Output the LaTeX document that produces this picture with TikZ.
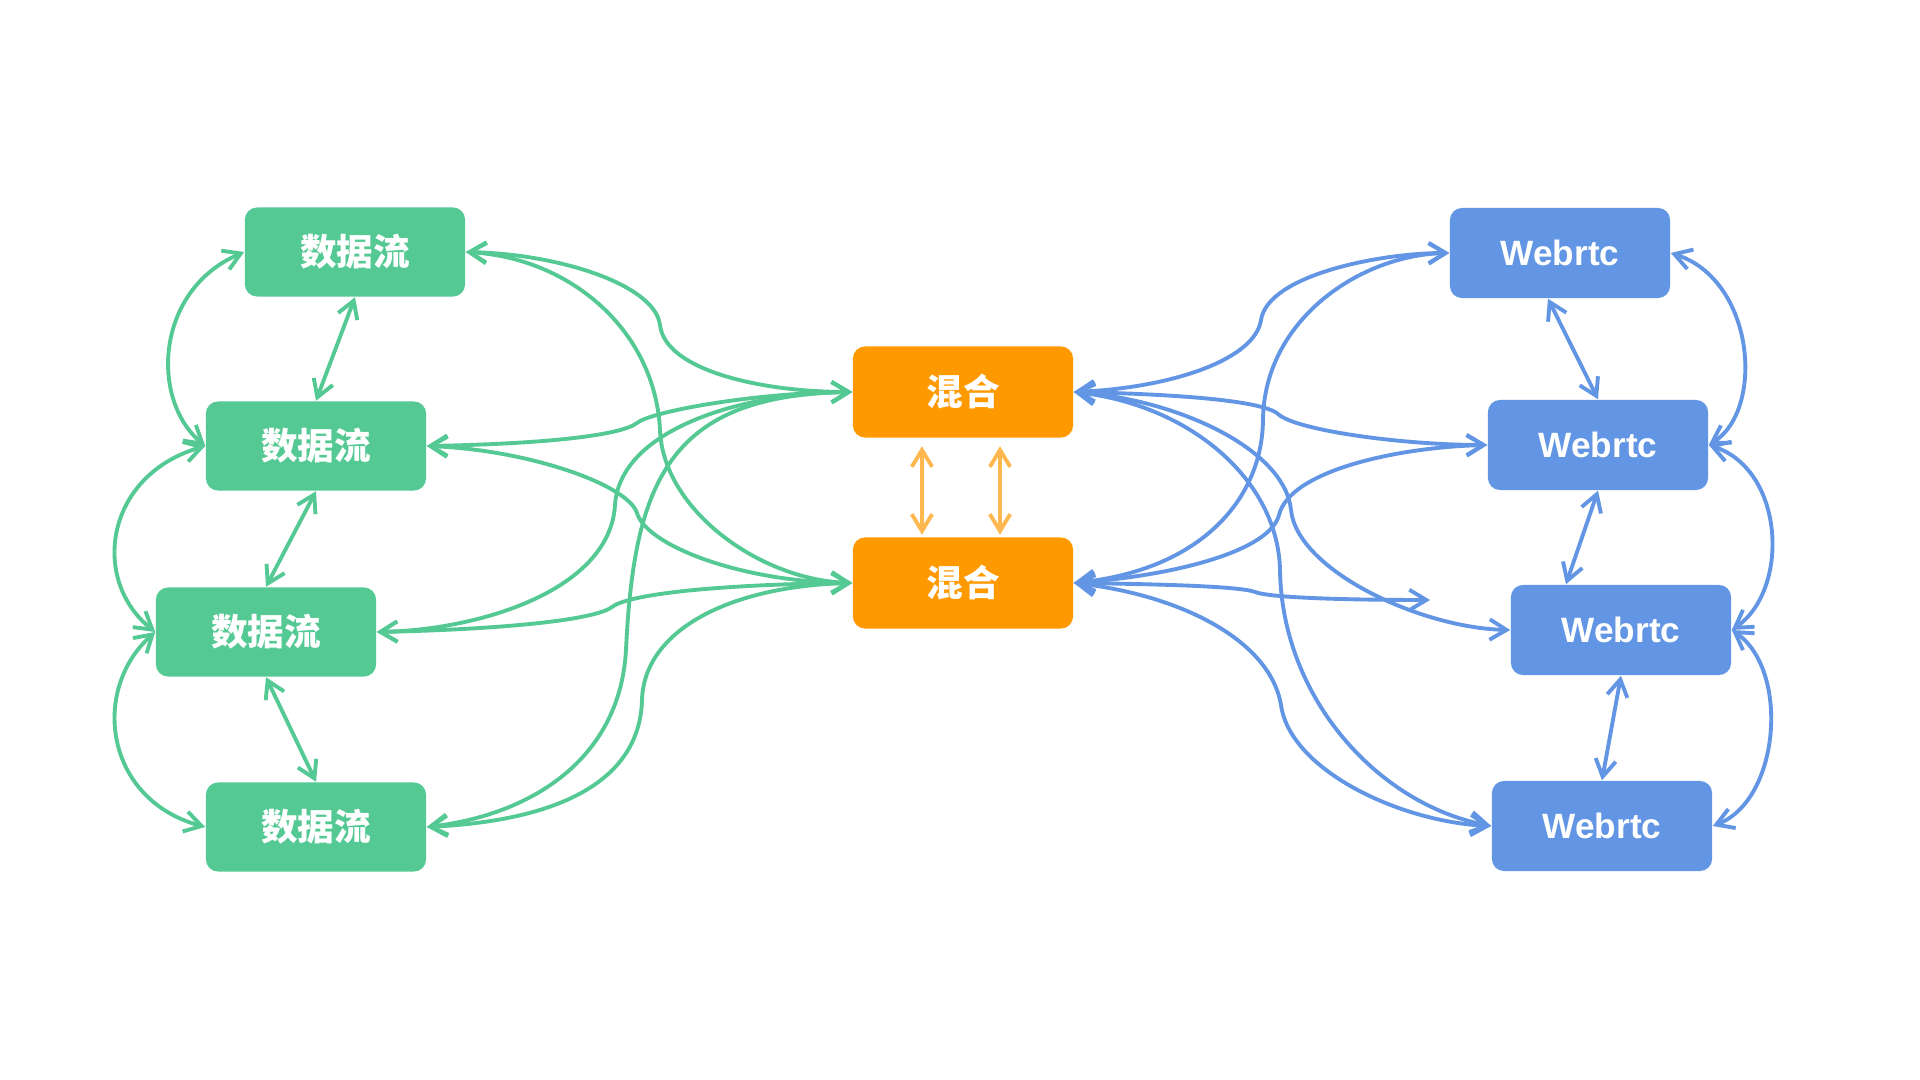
\documentclass[tikz,border=0pt]{standalone}
\usepackage{fontspec}
\setmainfont{Liberation Sans}
\newfontfamily\cjk{Noto Sans CJK SC}
\usetikzlibrary{arrows.meta}
\definecolor{gfill}{RGB}{85,201,148}
\definecolor{bfill}{RGB}{98,150,228}
\definecolor{ofill}{RGB}{255,153,0}
\definecolor{oline}{RGB}{255,183,80}
\begin{document}
\begin{tikzpicture}[x=0.01cm,y=-0.01cm,
  >={Straight Barb[length=4.8pt,width=5.8pt]},
  box/.style={rounded corners=0.12cm, minimum width=2.2cm, minimum height=0.89cm, inner sep=0pt, text=white},
  gbox/.style={box, fill=gfill, font=\cjk\bfseries\fontsize{10.4}{12}\selectfont},
  obox/.style={box, fill=ofill, minimum height=0.91cm, font=\cjk\bfseries\fontsize{10.4}{12}\selectfont},
  bbox/.style={box, fill=bfill, minimum height=0.9cm, font=\bfseries\fontsize{10}{12}\selectfont},
  con/.style={line width=1.1pt, line cap=round, line join=round, <->},
  gcon/.style={con, draw=gfill},
  bcon/.style={con, draw=bfill},
  ocon/.style={con, draw=oline},
]
\fill[white] (0,0) rectangle (1920,1080);
\useasboundingbox (0,0) rectangle (1920,1080);

% nodes
\node[gbox] (G1) at (355,252) {数据流};
\node[gbox] (G2) at (316,446) {数据流};
\node[gbox] (G3) at (266,632) {数据流};
\node[gbox] (G4) at (316,827) {数据流};
\node[obox] (O1) at (963,392) {混合};
\node[obox] (O2) at (963,583) {混合};
\node[bbox] (B1) at (1560,253) {Webrtc};
\node[bbox] (B2) at (1598,445) {Webrtc};
\node[bbox] (B3) at (1621,630) {Webrtc};
\node[bbox] (B4) at (1602,826) {Webrtc};
\coordinate (free) at (1430,600);

% green loops
\draw[gcon] (G1.west) .. controls (155,290) and (150,400) .. (G2.west);
\draw[gcon] (G2.west) .. controls (105,475) and (90,580) .. (G3.west);
\draw[gcon] (G3.west) .. controls (90,690) and (105,800) .. (G4.west);
% green straight
\draw[gcon] (G1.south) -- (G2.north);
\draw[gcon] (G2.south) -- (G3.north);
\draw[gcon] (G3.south) -- (G4.north);
% green to orange
\draw[gcon] (G1.east) .. controls (560,254) and (655,285) .. (660,325) .. controls (665,370) and (760,392) .. (O1.west);
\draw[gcon] (G1.east) .. controls (570,258) and (655,330) .. (660,430) .. controls (663,510) and (760,580) .. (O2.west);
\draw[gcon] (G2.east) .. controls (540,444) and (620,436) .. (637,423) .. controls (650,412) and (750,393) .. (O1.west);
\draw[gcon] (G2.east) .. controls (530,450) and (628,485) .. (637,513) .. controls (646,545) and (740,582) .. (O2.west);
\draw[gcon] (G3.east) .. controls (480,630) and (610,590) .. (615,505) .. controls (620,430) and (740,393) .. (O1.west);
\draw[gcon] (G3.east) .. controls (480,630) and (592,622) .. (612,607) .. controls (632,592) and (740,584) .. (O2.west);
\draw[gcon] (G4.east) .. controls (530,815) and (620,760) .. (626,650) .. controls (634,480) and (670,395) .. (O1.west);
\draw[gcon] (G4.east) .. controls (570,820) and (640,775) .. (642,700) .. controls (644,630) and (730,586) .. (O2.west);

% orange
\draw[ocon, shorten <=0.08cm, shorten >=0.02cm] ([xshift=-0.41cm]O1.south) -- ([xshift=-0.41cm]O2.north);
\draw[ocon, shorten <=0.08cm, shorten >=0.02cm] ([xshift=0.37cm]O1.south) -- ([xshift=0.37cm]O2.north);

% orange to blue
\draw[bcon] (O1.east) .. controls (1170,388) and (1255,360) .. (1261,320) .. controls (1268,275) and (1380,253) .. (B1.west);
\draw[bcon] (O1.east) .. controls (1170,394) and (1262,400) .. (1278,414) .. controls (1295,430) and (1400,445) .. (B2.west);
\draw[bcon] (O1.east) .. controls (1180,400) and (1285,450) .. (1291,510) .. controls (1297,570) and (1420,628) .. (B3.west);
\draw[bcon] (O1.east) .. controls (1190,405) and (1278,480) .. (1280,570) .. controls (1282,700) and (1380,805) .. (B4.west);
\draw[bcon] (O2.east) .. controls (1200,570) and (1262,500) .. (1263,420) .. controls (1264,320) and (1360,255) .. (B1.west);
\draw[bcon] (O2.east) .. controls (1180,575) and (1270,550) .. (1279,515) .. controls (1290,470) and (1400,447) .. (B2.west);
\draw[bcon] (O2.east) .. controls (1150,584) and (1240,586) .. (1255,592) .. controls (1270,598) and (1350,600) .. (free);
\draw[bcon] (O2.east) .. controls (1180,595) and (1270,640) .. (1281,705) .. controls (1290,770) and (1400,822) .. (B4.west);

% blue loops
\draw[bcon] (B1.east) .. controls (1755,280) and (1765,410) .. (B2.east);
\draw[bcon] (B2.east) .. controls (1785,470) and (1790,590) .. (B3.east);
\draw[bcon] (B3.east) .. controls (1790,670) and (1780,800) .. (B4.east);
% blue straight
\draw[bcon] ([xshift=-0.12cm]B1.south) -- (B2.north);
\draw[bcon] (B2.south) -- ([xshift=-0.55cm]B3.north);
\draw[bcon] (B3.south) -- (B4.north);
\end{tikzpicture}
\end{document}
